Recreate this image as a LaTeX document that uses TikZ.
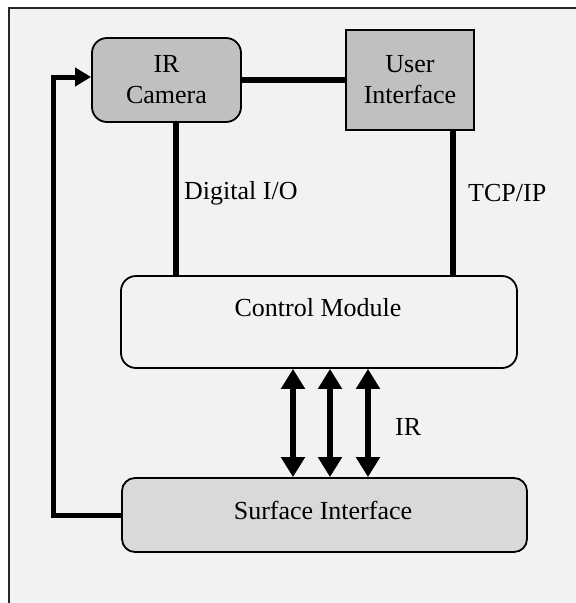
\documentclass[tikz,border=0pt]{standalone}
\usepackage{fontspec}
\setmainfont{Liberation Serif}
\usetikzlibrary{arrows.meta}
\definecolor{bgc}{HTML}{F2F2F2}
\definecolor{boxgray}{HTML}{C0C0C0}
\definecolor{surfgray}{HTML}{D9D9D9}
\begin{document}
\begin{tikzpicture}[x=1pt,y=-1pt,
  font=\fontsize{26}{31}\selectfont,
  blk/.style={draw=black,line width=1.8pt,align=center,inner sep=0pt},
  conn/.style={line width=6pt},
  darrow/.style={line width=6pt,{Triangle[length=20pt,width=23pt]}-{Triangle[length=20pt,width=23pt]}},
  farrow/.style={line width=5pt,-{Triangle[length=16pt,width=18pt]}},
  lbl/.style={anchor=west,inner sep=0pt}]
\useasboundingbox (0,0) rectangle (576,603);
\fill[white] (0,0) rectangle (576,603);
\fill[bgc] (9,8) rectangle (576,603);
\draw[line width=2pt,black!85] (9,603) -- (9,8) -- (576,8);

\node[blk,fill=boxgray,rounded corners=15pt,minimum width=149pt,minimum height=84pt] (cam) at (166.5,80) {IR\\Camera};
\node[blk,fill=boxgray,minimum width=128pt,minimum height=100pt] (ui) at (410,80) {User\\Interface};
\node[blk,fill=bgc,rounded corners=15pt,minimum width=396pt,minimum height=92pt] (ctrl) at (319,322) {};
\node[inner sep=0pt] (ctrltxt) at (318,308) {Control Module};
\node[blk,fill=surfgray,rounded corners=13pt,minimum width=405pt,minimum height=74pt] (surf) at (324.5,515) {};
\node[inner sep=0pt] (surftxt) at (323,510) {Surface Interface};

\draw[conn] (cam.east) -- (ui.west);
\draw[conn] ([xshift=9.5pt]cam.south) coordinate (dio) -- (dio |- ctrl.north);
\draw[conn] ([xshift=43pt]ui.south) coordinate (tcp) -- (tcp |- ctrl.north);

\node[lbl] (diol) at (184,193) {Digital I/O};
\node[lbl] (tcpl) at (468,193) {TCP/IP};
\node[lbl] (irl) at (395,427) {IR};

\foreach \dx/\n in {-26/a,11/b,49/c}{
  \draw[darrow] ([xshift=\dx pt]ctrl.south) coordinate (t\n) -- (t\n |- surf.north);
}

\coordinate (fb) at (53,300);
\draw[farrow] (surf.west) -- (surf.west -| fb) -- ([yshift=3pt]cam.west -| fb) -- ([yshift=3pt]cam.west);
\end{tikzpicture}
\end{document}
